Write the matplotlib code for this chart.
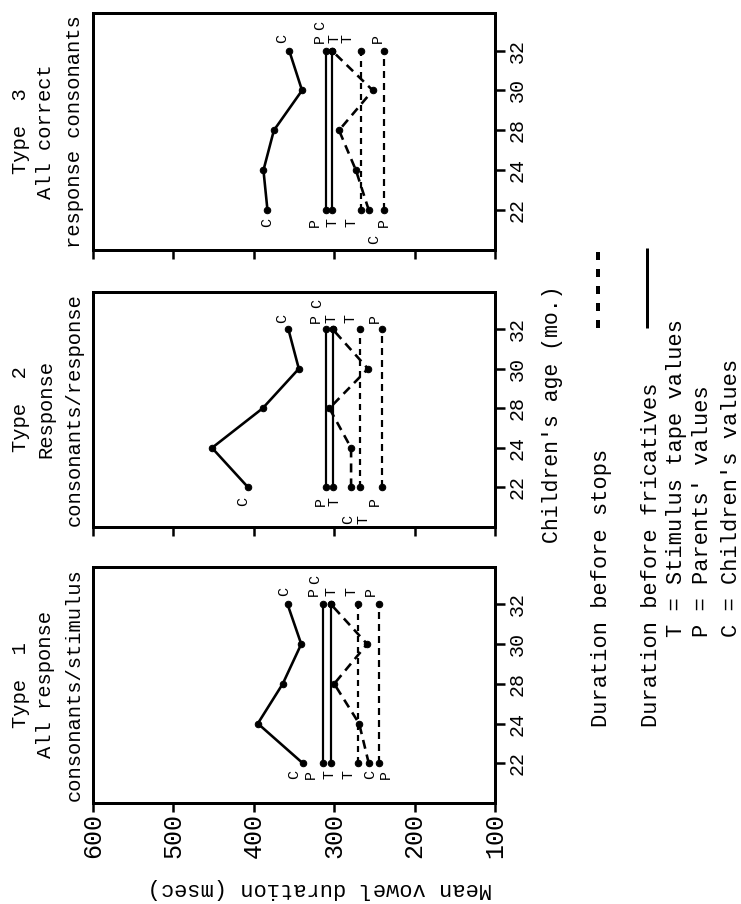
import matplotlib
matplotlib.use("Agg")
import matplotlib.pyplot as plt
from matplotlib.lines import Line2D

plt.rcParams["font.family"] = ["Liberation Mono", "DejaVu Sans Mono"]
plt.rcParams["lines.scale_dashes"] = False

# ---- data -------------------------------------------------------------
ages = [22, 24, 28, 30, 32]
age_labels = ["22", "24", "28", "30", "32"]
duration_ticks = [600, 500, 400, 300, 200, 100]
duration_tick_labels = ["600", "500", "400", "300", "200", "100"]

panel_titles = [
    ["Type  1", "All response", "consonants/stimulus"],
    ["Type  2", "Response", "consonants/response"],
    ["Type  3", "All correct", "response consonants"],
]

# Type 1: all response consonants / stimulus
t1_children_fric = [339, 395, 364, 341, 358]
t1_parents_fric = [314, 314, 314, 314, 314]
t1_tape_fric = [304, 304, 304, 304, 304]
t1_children_stop = [257, 269, 300, 259, 304]
t1_tape_stop = [270, 270, 270, 270, 270]
t1_parents_stop = [244, 244, 244, 244, 244]

# Type 2: response consonants / response
t2_children_fric = [407, 452, 389, 344, 357]
t2_parents_fric = [310, 310, 310, 310, 310]
t2_tape_fric = [301, 301, 301, 301, 301]
t2_children_stop = [279, 279, 306, 258, 302]
t2_tape_stop = [268, 268, 268, 268, 268]
t2_parents_stop = [241, 241, 241, 241, 241]

# Type 3: all correct response consonants
t3_children_fric = [383, 388, 375, 340, 356]
t3_parents_fric = [310, 310, 310, 310, 310]
t3_tape_fric = [303, 303, 303, 303, 303]
t3_children_stop = [257, 273, 294, 252, 303]
t3_tape_stop = [267, 267, 267, 267, 267]
t3_parents_stop = [238, 238, 238, 238, 238]

panel_series = [
    {"Cf": t1_children_fric, "Pf": t1_parents_fric, "Tf": t1_tape_fric,
     "Cs": t1_children_stop, "Ts": t1_tape_stop, "Ps": t1_parents_stop},
    {"Cf": t2_children_fric, "Pf": t2_parents_fric, "Tf": t2_tape_fric,
     "Cs": t2_children_stop, "Ts": t2_tape_stop, "Ps": t2_parents_stop},
    {"Cf": t3_children_fric, "Pf": t3_parents_fric, "Tf": t3_tape_fric,
     "Cs": t3_children_stop, "Ts": t3_tape_stop, "Ps": t3_parents_stop},
]

# ---- styles -----------------------------------------------------------
# children's curves carry a dot at every age; parents/tape only at the ends
series_style = {
    "Cf": dict(ls="-", lw=2.6, letter="C", every=None),
    "Pf": dict(ls="-", lw=2.2, letter="P", every=[0, 4]),
    "Tf": dict(ls="-", lw=2.2, letter="T", every=[0, 4]),
    "Cs": dict(ls=(0, (9, 6)), lw=2.6, letter="C", every=None),
    "Ts": dict(ls=(0, (6, 5)), lw=2.2, letter="T", every=[0, 4]),
    "Ps": dict(ls=(0, (7, 5)), lw=2.2, letter="P", every=[0, 4]),
}

# end-letter placement (pixel nudges): (series, end index, dx, dy)
letter_layout = [
    [("Cf", 0, -9, -11), ("Pf", 0, -12, -11), ("Tf", 0, -1, -11),
     ("Ts", 0, -10, -11), ("Cs", 0, 1, -11), ("Ps", 0, 7, -11),
     ("Cf", 4, -3, 13), ("Pf", 4, -9, 13), ("Cs", 4, -16, 25),
     ("Tf", 4, 1, 13), ("Ts", 4, -7, 13), ("Ps", 4, -8, 13)],
    [("Cf", 0, -5, -14), ("Pf", 0, -5, -14), ("Tf", 0, 1, -14),
     ("Ps", 0, -7, -14), ("Cs", 0, -3, -32), ("Ts", 0, 4, -32),
     ("Cf", 4, -6, 11), ("Pf", 4, -10, 11), ("Cs", 4, -15, 26),
     ("Tf", 4, -2, 11), ("Ts", 4, -9, 11), ("Ps", 4, -7, 11)],
    [("Cf", 0, 0, -12), ("Pf", 0, -11, -12), ("Tf", 0, 1, -12),
     ("Ts", 0, -9, -12), ("Ps", 0, 0, -12), ("Cs", 0, 5, -29),
     ("Cf", 4, -7, 12), ("Pf", 4, -6, 12), ("Cs", 4, -12, 25),
     ("Tf", 4, 3, 12), ("Ts", 4, -13, 12), ("Ps", 4, -6, 12)],
]

W, H = 741, 904
fig = plt.figure(figsize=(W / 72, H / 72), dpi=72)
fig.patch.set_facecolor("white")

# panel boxes in pixels: (left, top, right, bottom)
panel_boxes = [(93, 567, 495, 803), (93, 292, 495, 527), (93, 13, 495, 250)]


def px_axes(box):
    l, t, r, b = box
    return fig.add_axes([l / W, 1 - b / H, (r - l) / W, (b - t) / H])


def ftext(x, y, s, **kw):
    fig.text(x / W, 1 - y / H, s, **kw)


positions = list(range(len(ages)))

for i, (box, series, layout, title) in enumerate(
        zip(panel_boxes, panel_series, letter_layout, panel_titles)):
    ax = px_axes(box)
    for key, vals in series.items():
        st = series_style[key]
        ax.plot(vals, positions, color="black", linestyle=st["ls"],
                linewidth=st["lw"], marker="o", markersize=6.5,
                markevery=st["every"],
                markerfacecolor="black", markeredgecolor="black",
                solid_capstyle="butt", dash_capstyle="butt")
    for key, idx, dx, dy in layout:
        ax.annotate(series_style[key]["letter"],
                    xy=(series[key][idx], positions[idx]),
                    xytext=(dx, dy), textcoords="offset pixels",
                    rotation=90, ha="center", va="center", fontsize=15)

    ax.set_xlim(600, 100)
    ax.set_ylim(-1.0, 4.94)
    for sp in ax.spines.values():
        sp.set_linewidth(3)
    ax.set_xticks(duration_ticks)
    if i == 0:
        ax.set_xticklabels(duration_tick_labels, rotation=90, fontsize=25)
    else:
        ax.set_xticklabels([])
    ax.yaxis.tick_right()
    ax.set_yticks(positions)
    ax.set_yticklabels(age_labels, rotation=90, va="center", fontsize=20)
    ax.tick_params(axis="x", direction="out", length=9, width=2.5, pad=1)
    ax.tick_params(axis="y", direction="out", length=10, width=2.5, pad=3)

    l, t, r, b = box
    cy = (t + b) / 2
    for line, bx in zip(title, (26, 51, 80)):
        ftext(bx, cy, line, rotation=90, rotation_mode="anchor",
              ha="center", va="baseline", fontsize=20.5)

# axis titles
ftext(558, 414, "Children's age (mo.)", rotation=90, rotation_mode="anchor",
      ha="center", va="baseline", fontsize=21.5)
ftext(320, 888, "Mean vowel duration (msec)", rotation=180,
      ha="center", va="center", fontsize=22)

# key
ftext(607, 727, "Duration before stops", rotation=90, rotation_mode="anchor",
      ha="left", va="baseline", fontsize=22)
ftext(657, 727, "Duration before fricatives", rotation=90,
      rotation_mode="anchor", ha="left", va="baseline", fontsize=22)
ftext(682, 637, "T = Stimulus tape values", rotation=90,
      rotation_mode="anchor", ha="left", va="baseline", fontsize=22)
ftext(708, 637, "P = Parents' values", rotation=90, rotation_mode="anchor",
      ha="left", va="baseline", fontsize=22)
ftext(737, 637, "C = Children's values", rotation=90, rotation_mode="anchor",
      ha="left", va="baseline", fontsize=22)

fig.add_artist(Line2D([598 / W, 598 / W], [1 - 328 / H, 1 - 248 / H],
                      transform=fig.transFigure, color="black", lw=4,
                      linestyle=(0, (8, 9)), dash_capstyle="butt"))
fig.add_artist(Line2D([647 / W, 647 / W], [1 - 328 / H, 1 - 248 / H],
                      transform=fig.transFigure, color="black", lw=3,
                      solid_capstyle="butt"))

fig.savefig("out.png", dpi=72, facecolor="white")
